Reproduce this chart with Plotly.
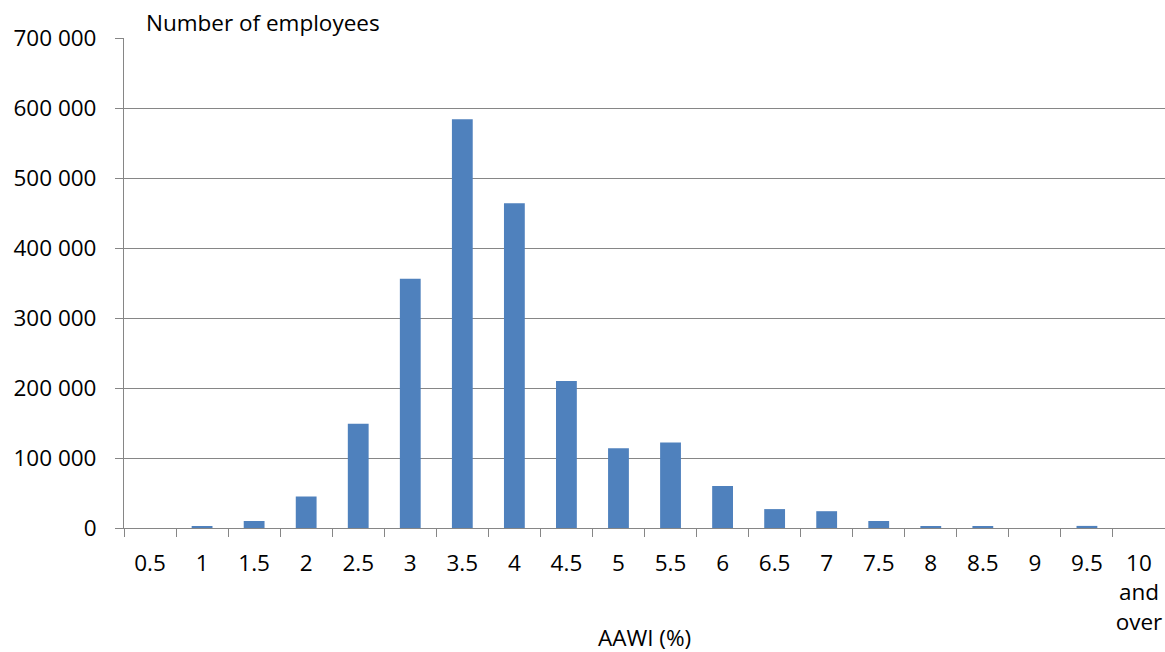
import plotly.graph_objects as go

categories = ["0.5", "1", "1.5", "2", "2.5", "3", "3.5", "4", "4.5", "5",
              "5.5", "6", "6.5", "7", "7.5", "8", "8.5", "9", "9.5", "10<br>and<br>over"]
employees = [0, 1500, 10000, 45000, 149000, 356000, 584000, 464000, 210000, 114000,
             122000, 60000, 27000, 24000, 10000, 2500, 2500, 0, 3000, 0]
y_ticks = [0, 100000, 200000, 300000, 400000, 500000, 600000, 700000]

FONT = "Open Sans"
FS = 22.5
GRID = "#868686"

fig = go.Figure(go.Bar(
    x=categories, y=employees,
    marker=dict(color="#4F81BD", line=dict(width=0)),
    hoverinfo="skip",
))

fig.update_layout(
    width=1165, height=652,
    margin=dict(l=124, r=0, t=38, b=124),
    paper_bgcolor="white", plot_bgcolor="white",
    bargap=0.6,
    showlegend=False,
    separators=". ",
    font=dict(family=FONT, size=FS, color="#000000"),
    xaxis=dict(
        type="category",
        tickson="boundaries",
        ticks="outside", ticklen=8, tickcolor=GRID, tickwidth=1,
        showline=True, linecolor=GRID, linewidth=1,
        showgrid=False, zeroline=False,
        tickfont=dict(family=FONT, size=FS),
        ticklabelstandoff=15,
        tickangle=0,
    ),
    yaxis=dict(
        range=[0, 700000],
        tickvals=y_ticks,
        tickformat=",d",
        ticks="outside", ticklen=8, tickcolor=GRID, tickwidth=1,
        showline=True, linecolor=GRID, linewidth=1,
        showgrid=True, gridcolor=GRID, gridwidth=1,
        zeroline=False,
        tickfont=dict(family=FONT, size=FS),
        ticklabelstandoff=14,
    ),
    annotations=[
        dict(text="Number of employees", xref="paper", yref="paper",
             x=0.019, y=1, xanchor="left", yanchor="middle", yshift=16,
             showarrow=False, font=dict(family=FONT, size=FS)),
        dict(text="AAWI (%)", xref="paper", yref="paper",
             x=0.5, y=0, xanchor="center", yanchor="middle", yshift=-109,
             showarrow=False, font=dict(family=FONT, size=FS)),
    ],
)

fig.write_html(
    "out.html",
    config={"displayModeBar": False},
    post_script="document.body.style.margin='0';document.body.style.overflow='hidden';",
)
